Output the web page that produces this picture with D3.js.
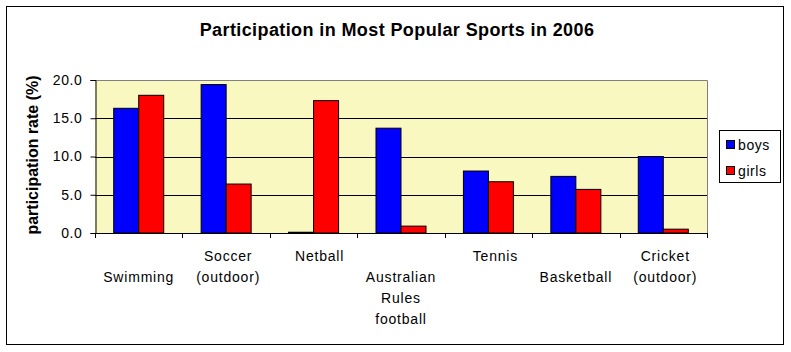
<!DOCTYPE html>
<html>
<head>
<meta charset="utf-8">
<script src="https://cdn.jsdelivr.net/npm/d3@7"></script>
<style>
  body { margin: 0; background: #fff; }
  svg text { font-family: Arial, "Liberation Sans", sans-serif; }
</style>
</head>
<body>
<div id="chart"></div>
<script>
// chart data
const sports = [
  ["Swimming"],
  ["Soccer", "(outdoor)"],
  ["Netball"],
  ["Australian", "Rules", "football"],
  ["Tennis"],
  ["Basketball"],
  ["Cricket", "(outdoor)"]
];
const seriesNames = ["boys", "girls"];
const boys = [16.3, 19.4, 0.1, 13.7, 8.1, 7.4, 10.0];
const girls = [18.0, 6.4, 17.3, 0.9, 6.7, 5.7, 0.5];
const yTicks = [0, 5, 10, 15, 20];
const chartTitle = "Participation in Most Popular Sports in 2006";
const yTitle = "participation rate (%)";

const colors = {boys: "#0000FF", girls: "#FF0000"};

// layout
const W = 791, H = 352;
const plot = {left: 95, right: 707, top: 80, bottom: 233};
// which text row each category label starts on (excel staggers them)
const labelRow = [1, 0, 0, 1, 0, 1, 0];
const labelShift = [0, 2, 6, 0, 7, 0, 2];

const rows = sports.map((s, i) => ({
  key: s.join(" "),
  lines: s,
  boys: boys[i],
  girls: girls[i],
  i: i
}));

const svg = d3.select("#chart")
  .append("svg")
  .attr("width", W)
  .attr("height", H);

// outer frame
svg.append("rect")
  .attr("x", 6.5).attr("y", 6.5)
  .attr("width", 777).attr("height", 338)
  .attr("fill", "#fff")
  .attr("stroke", "#000")
  .attr("stroke-width", 1);

svg.append("text")
  .attr("x", 397).attr("y", 36)
  .attr("text-anchor", "middle")
  .style("font-size", "18px")
  .style("letter-spacing", "0.4px")
  .style("font-weight", "bold")
  .text(chartTitle);

const x0 = d3.scaleBand()
  .domain(rows.map(d => d.key))
  .range([plot.left, plot.right])
  .paddingInner(0).paddingOuter(0);

const bw = x0.bandwidth();
const x1 = d3.scaleBand()
  .domain(seriesNames)
  .range([bw * 0.214, bw * 0.786]);

const y = d3.scaleLinear()
  .domain([0, 20])
  .range([plot.bottom, plot.top]);

// plot background
svg.append("rect")
  .attr("x", plot.left).attr("y", plot.top)
  .attr("width", plot.right - plot.left)
  .attr("height", plot.bottom - plot.top)
  .attr("fill", "#F8F8C0");

// gridlines
svg.append("g")
  .selectAll("line")
  .data(yTicks.filter(t => t > 0 && t < 20))
  .enter().append("line")
  .attr("x1", plot.left).attr("x2", plot.right)
  .attr("y1", d => Math.round(y(d)) + 0.5)
  .attr("y2", d => Math.round(y(d)) + 0.5)
  .attr("stroke", "#000");

// gray top/right border
svg.append("path")
  .attr("d", `M${plot.left},${plot.top + 0.5}H${plot.right + 0.5}V${plot.bottom}`)
  .attr("fill", "none")
  .attr("stroke", "#808080");

// bars
const groups = svg.append("g")
  .selectAll("g")
  .data(rows)
  .enter().append("g")
  .attr("transform", d => `translate(${x0(d.key)},0)`);

groups.selectAll("rect")
  .data(d => seriesNames.map(k => ({k: k, v: d[k]})))
  .enter().append("rect")
  .attr("x", d => x1(d.k))
  .attr("y", d => y(d.v))
  .attr("width", x1.bandwidth())
  .attr("height", d => y(0) - y(d.v))
  .attr("fill", d => colors[d.k])
  .attr("stroke", "#000")
  .attr("stroke-width", 1);

// y axis
const yAxis = d3.axisLeft(y)
  .tickValues(yTicks)
  .tickFormat(d3.format(".1f"))
  .tickSize(5)
  .tickPadding(8);

const gy = svg.append("g")
  .attr("transform", `translate(${plot.left + 0.5},0)`)
  .call(yAxis);
gy.select(".domain").attr("stroke", "#000");
gy.selectAll(".tick line").attr("stroke", "#000");
gy.selectAll("text")
  .style("font-size", "14px")
  .style("letter-spacing", "0.6px")
  .attr("fill", "#000");

// x axis: ticks on category boundaries
const bounds = rows.map(d => x0(d.key)).concat([plot.right]);
const gx = svg.append("g");
gx.append("line")
  .attr("x1", plot.left).attr("x2", plot.right + 1)
  .attr("y1", plot.bottom + 0.5).attr("y2", plot.bottom + 0.5)
  .attr("stroke", "#000");
gx.selectAll(".xtick")
  .data(bounds)
  .enter().append("line")
  .attr("class", "xtick")
  .attr("x1", d => Math.round(d) + 0.5).attr("x2", d => Math.round(d) + 0.5)
  .attr("y1", plot.bottom).attr("y2", plot.bottom + 5)
  .attr("stroke", "#000");

// category labels
const lineH = 21;
const labels = svg.append("g")
  .selectAll("text")
  .data(rows)
  .enter().append("text")
  .attr("text-anchor", "middle")
  .style("font-size", "14px")
  .style("letter-spacing", "0.8px");

labels.selectAll("tspan")
  .data(d => d.lines.map((t, j) => ({t: t, j: j, d: d})))
  .enter().append("tspan")
  .attr("x", e => x0(e.d.key) + bw / 2 + labelShift[e.d.i])
  .attr("y", e => 261 + (labelRow[e.d.i] + e.j) * lineH)
  .text(e => e.t);

// y axis title
svg.append("text")
  .attr("transform", "translate(38,155) rotate(-90)")
  .attr("text-anchor", "middle")
  .style("font-size", "16px")
  .style("font-weight", "bold")
  .text(yTitle);

// legend
const legend = svg.append("g").attr("transform", "translate(719,130)");
legend.append("rect")
  .attr("x", 0.5).attr("y", 0.5)
  .attr("width", 61).attr("height", 52)
  .attr("fill", "#fff")
  .attr("stroke", "#000");

const items = legend.selectAll(".item")
  .data(seriesNames)
  .enter().append("g")
  .attr("class", "item")
  .attr("transform", (d, i) => `translate(7,${10 + i * 26})`);

items.append("rect")
  .attr("x", 0.5).attr("y", 0.5)
  .attr("width", 8).attr("height", 8)
  .attr("fill", d => colors[d])
  .attr("stroke", "#000");

items.append("text")
  .attr("x", 12).attr("y", 10)
  .style("font-size", "14px")
  .style("letter-spacing", "0.6px")
  .text(d => d);
</script>
</body>
</html>
